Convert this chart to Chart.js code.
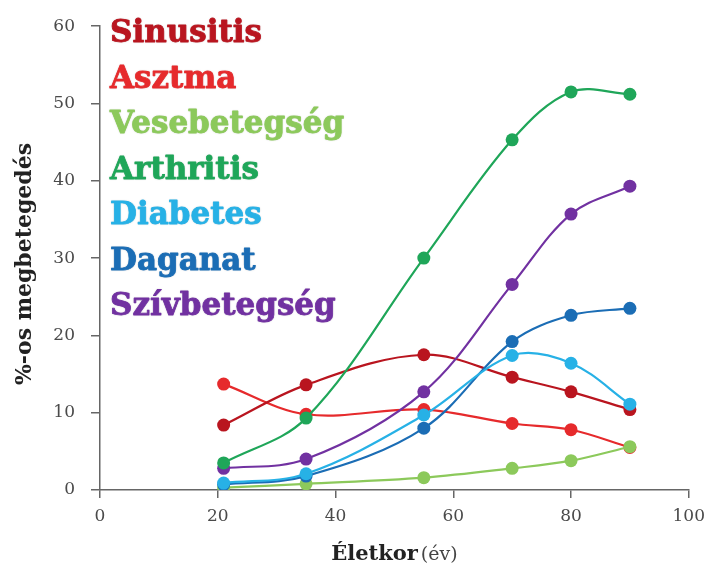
<!DOCTYPE html>
<html>
<head>
<meta charset="utf-8">
<script src="https://cdn.jsdelivr.net/npm/chart.js@4/dist/chart.umd.min.js"></script>
<style>
  html, body { margin: 0; padding: 0; background: #fff; }
  #wrap { width: 713px; height: 579px; }
</style>
</head>
<body>
<div id="wrap"><canvas id="chart" width="713" height="579"></canvas></div>
<script>
// ages (x) and % values per illness
const ages = [21, 35, 55, 70, 80, 90];

const sinusitis    = [8.4, 13.6, 17.5, 14.6, 12.7, 10.4];
const asztma       = [13.7, 9.8, 10.4, 8.6, 7.8, 5.5];
const vesebeteg    = [0.3, 0.8, 1.6, 2.8, 3.8, 5.6];
const arthritis    = [3.5, 9.3, 30.0, 45.3, 51.5, 51.2];
const diabetes     = [0.9, 2.1, 9.7, 17.4, 16.4, 11.1];
const daganat      = [0.7, 1.8, 8.0, 19.2, 22.6, 23.5];
const szivbeteg    = [2.8, 4.0, 12.7, 26.6, 35.7, 39.3];

const yTicks = [0, 10, 20, 30, 40, 50, 60];
const xTicks = [0, 20, 40, 60, 80, 100];

const series = [
  { label: 'Sinusitis',    data: sinusitis, color: '#b9151f', order: 6 },
  { label: 'Asztma',       data: asztma,    color: '#e62a2c', order: 7 },
  { label: 'Vesebetegség', data: vesebeteg, color: '#8cc95b', order: 5 },
  { label: 'Arthritis',    data: arthritis, color: '#1fa659', order: 2 },
  { label: 'Diabetes',     data: diabetes,  color: '#27b1e6', order: 1 },
  { label: 'Daganat',      data: daganat,   color: '#1b6db5', order: 3 },
  { label: 'Szívbetegség', data: szivbeteg, color: '#7131a1', order: 4 }
];

const serif = '"DejaVu Serif", "Liberation Serif", serif';

// legend as coloured words in the top-left of the plot
const wordLegend = {
  id: 'wordLegend',
  afterDraw(chart) {
    const ctx = chart.ctx;
    const area = chart.chartArea;
    ctx.save();
    ctx.font = 'bold 31px ' + serif;
    ctx.textBaseline = 'middle';
    ctx.textAlign = 'left';
    ctx.lineJoin = 'round';
    chart.data.datasets.forEach((ds, i) => {
      const y = 34 + i * 45.5;
      ctx.shadowColor = 'rgba(0,0,0,0.25)';
      ctx.shadowBlur = 2;
      ctx.fillStyle = ds.borderColor;
      ctx.strokeStyle = ds.borderColor;
      ctx.lineWidth = 0.8;
      ctx.fillText(ds.label, area.left + 10, y);
      ctx.shadowColor = 'transparent';
      ctx.strokeText(ds.label, area.left + 10, y);
    });
    ctx.restore();
  }
};

// axis titles (x title mixes bold and normal weight)
const axisTitles = {
  id: 'axisTitles',
  afterDraw(chart) {
    const ctx = chart.ctx;
    const area = chart.chartArea;
    ctx.save();
    ctx.fillStyle = '#222';
    ctx.textBaseline = 'middle';

    ctx.translate(25, 264);
    ctx.rotate(-Math.PI / 2);
    ctx.textAlign = 'center';
    ctx.font = 'bold 22px ' + serif;
    ctx.fillText('%-os megbetegedés', 0, 0);
    ctx.setTransform(1, 0, 0, 1, 0, 0);

    const bold = 'Életkor';
    const normal = '(év)';
    ctx.font = 'bold 21px ' + serif;
    const w1 = ctx.measureText(bold).width;
    ctx.font = '19px ' + serif;
    const w2 = ctx.measureText(normal).width;
    let x = (area.left + area.right) / 2 - (w1 + w2 + 3) / 2;
    ctx.textAlign = 'left';
    ctx.font = 'bold 21px ' + serif;
    ctx.fillText(bold, x, 555);
    ctx.font = '19px ' + serif;
    ctx.fillStyle = '#444';
    ctx.fillText(normal, x + w1 + 3, 555);
    ctx.restore();
  }
};

new Chart(document.getElementById('chart'), {
  type: 'line',
  data: {
    datasets: series.map(s => ({
      label: s.label,
      data: ages.map((a, i) => ({ x: a, y: s.data[i] })),
      borderColor: s.color,
      backgroundColor: s.color,
      pointBackgroundColor: s.color,
      pointBorderColor: s.color,
      pointRadius: 6.5,
      pointBorderWidth: 0,
      borderWidth: 2.2,
      tension: 0.35,
      fill: false,
      order: s.order
    }))
  },
  options: {
    responsive: false,
    animation: false,
    layout: { padding: { top: 19, right: 20, left: 0, bottom: 0 } },
    plugins: {
      legend: { display: false },
      tooltip: { enabled: false }
    },
    scales: {
      x: {
        type: 'linear',
        min: 0,
        max: 100,
        afterBuildTicks(scale) { scale.ticks = xTicks.map(v => ({ value: v })); },
        afterFit(scale) { scale.height = 89; },
        grid: { drawOnChartArea: false, drawTicks: true, tickLength: 8, color: '#666', lineWidth: 1.5 },
        border: { color: '#666', width: 1.5 },
        ticks: { padding: 8, color: '#4a4a4a', font: { family: serif, size: 17 } }
      },
      y: {
        min: 0,
        max: 60,
        afterBuildTicks(scale) { scale.ticks = yTicks.map(v => ({ value: v })); },
        afterFit(scale) { scale.width = 100; },
        grid: { drawOnChartArea: false, drawTicks: true, tickLength: 9, color: '#666', lineWidth: 1.5 },
        border: { color: '#666', width: 1.5 },
        ticks: { padding: 16, color: '#4a4a4a', font: { family: serif, size: 17 } }
      }
    }
  },
  plugins: [wordLegend, axisTitles]
});
</script>
</body>
</html>
